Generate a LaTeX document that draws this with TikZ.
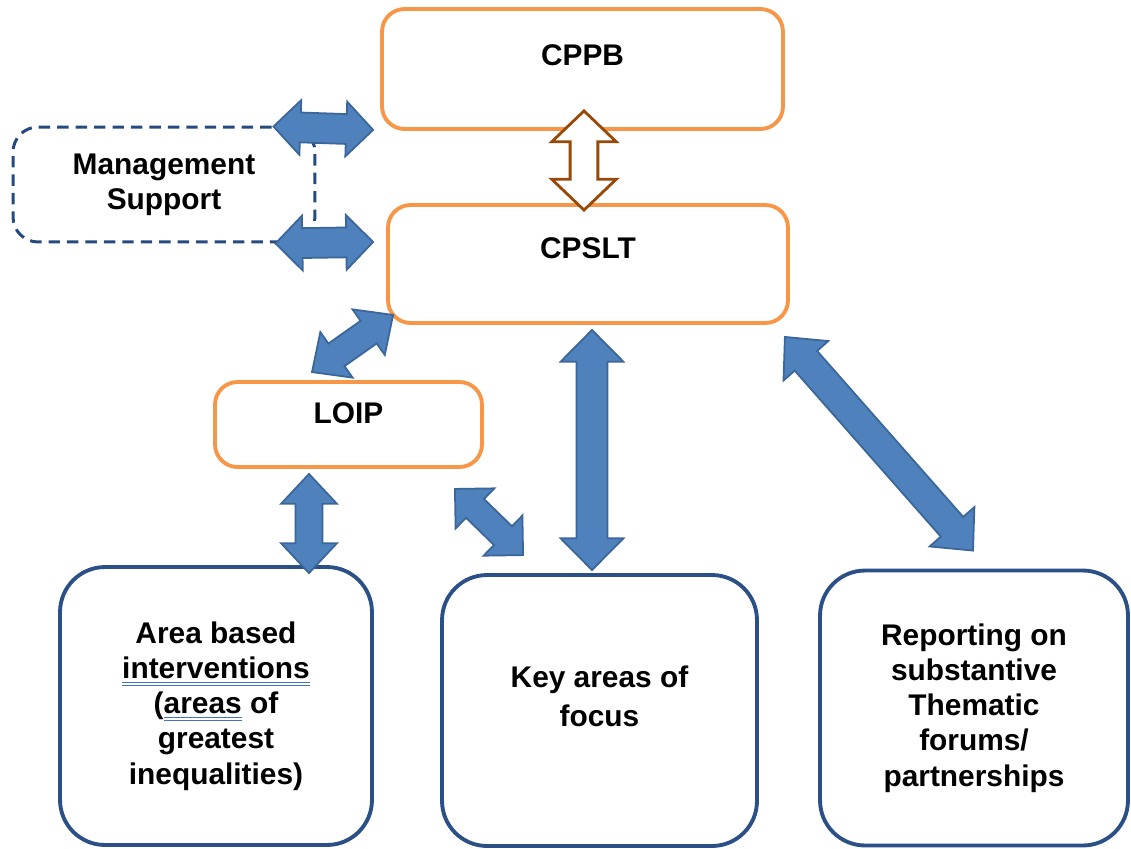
\documentclass[tikz,border=0pt]{standalone}
\usepackage{fontspec}
\setmainfont{Liberation Sans}
\usetikzlibrary{calc}

\definecolor{boxorange}{HTML}{F79646}
\definecolor{boxblue}{HTML}{2B5087}
\definecolor{dashblue}{HTML}{254A80}
\definecolor{arrowfill}{HTML}{4F81BD}
\definecolor{arrowedge}{HTML}{3A6699}
\definecolor{arrowbrown}{HTML}{984807}
\definecolor{markblue}{HTML}{4472C4}

% double blue line under a word
\newsavebox{\markbox}
\newcommand{\spellmark}[1]{\sbox{\markbox}{#1}%
  \rlap{\textcolor{markblue}{\rule[-2.6pt]{\wd\markbox}{0.6pt}}}%
  \rlap{\textcolor{markblue}{\rule[-4.2pt]{\wd\markbox}{0.6pt}}}\usebox{\markbox}}

% block arrow with two heads: [style]{from}{to}{half shaft}{half head}{head length}
\newcommand{\dblarrow}[6][]{%
  \draw[blockarrow,#1] let \p1=($(#3)-(#2)$), \n1={atan2(\y1,\x1)}, \n2={veclen(\x1,\y1)} in
    (#2) -- ++($(\n1:#6)+(\n1+90:#5)$) -- ++(\n1-90:{#5-#4})
    -- ++(\n1:{\n2*1pt-2*#6}) -- ++(\n1+90:{#5-#4}) -- (#3)
    -- ++($(\n1+180:#6)+(\n1-90:#5)$) -- ++(\n1+90:{#5-#4})
    -- ++(\n1+180:{\n2*1pt-2*#6}) -- ++(\n1-90:{#5-#4}) -- cycle;}

\tikzset{
  txt/.style={font=\fontsize{17}{20}\selectfont\bfseries, align=center},
  topbox/.style={txt, draw=boxorange, line width=2.2pt, rounded corners=0.45cm, text height=12.5pt},
  lowbox/.style={txt, draw=boxblue, line width=2.2pt, rounded corners=0.9cm,
    minimum width=6.2cm, minimum height=5.5cm},
  mgmtbox/.style={txt, draw=dashblue, line width=1.7pt, rounded corners=0.5cm,
    dash pattern=on 6.5pt off 4pt, minimum width=6.04cm, minimum height=2.3cm},
  blockarrow/.style={fill=arrowfill, draw=arrowedge, line width=1pt, line join=miter},
  hollowarrow/.style={fill=white, draw=arrowbrown, line width=1.6pt}
}

\begin{document}
\begin{tikzpicture}[x=0.02cm, y=-0.02cm]
\useasboundingbox (0,0) rectangle (1131,848);

% boxes
\node[topbox, minimum width=8.02cm, minimum height=2.4cm, text depth=16pt] (cppb) at (582.5,69) {CPPB};
\node[topbox, minimum width=8cm, minimum height=2.36cm, text depth=18.5pt] (cpslt) at (588,264) {CPSLT};
\node[topbox, minimum width=5.34cm, minimum height=1.7cm, text depth=13.5pt] (loip) at (348.5,424.5) {LOIP};
\node[mgmtbox] (ms) at (164,184.5) {Management\\Support};
\node[lowbox, minimum width=6.24cm, minimum height=5.56cm] (area) at (216,706)
  {Area based\\\spellmark{interventions}\\(\spellmark{areas} of\\greatest\\inequalities)};
\node[lowbox, minimum width=6.3cm, minimum height=5.42cm, font=\fontsize{17}{22}\selectfont\bfseries] (key) at (599.5,710.5)
  {Key areas of\\focus\\[-6pt]};
\node[lowbox, minimum width=6.16cm, minimum height=5.5cm] (report) at (974,708)
  {Reporting on\\substantive\\Thematic\\forums/\\partnerships};

% arrow ends
\coordinate (m1) at ($(ms.north east)+(-43,1)$);
\coordinate (m2) at ($(cppb.south west)+(-7,-1)$);
\coordinate (m3) at ($(ms.south east)+(-41,0)$);
\coordinate (m4) at ($(cpslt.west)+(-13,-22)$);
\coordinate (b1) at ($(cppb.south)+(1.5,-20)$);
\coordinate (b2) at ($(cpslt.north)+(-4,7)$);
\coordinate (c1) at ($(cpslt.south west)+(7,-10)$);
\coordinate (c2) at ($(loip.north)+(-36.5,-8)$);
\coordinate (l1) at ($(loip.south)+(-39.5,5)$);
\coordinate (l2) at ($(area.north)+(93,8)$);
\coordinate (l3) at ($(loip.south east)+(-29,20)$);
\coordinate (l4) at ($(key.north west)+(83,-18)$);
\coordinate (k1) at ($(cpslt.south)+(4,5)$);
\coordinate (k2) at ($(key.north)+(-7.5,-3)$);
\coordinate (r1) at ($(cpslt.south east)+(-5,12)$);
\coordinate (r2) at ($(report.north)+(-1,-18)$);

% arrows
\dblarrow[hollowarrow]{b1}{b2}{7.9pt}{18.4pt}{17.6pt}
\foreach \a/\b/\sw/\hw/\hl in {
  m1/m2/8.5pt/15.6pt/15.3pt, m3/m4/8.5pt/15.6pt/15.3pt,
  c1/c2/7.9pt/15.9pt/17pt, l1/l2/7.7pt/15.9pt/17pt,
  l3/l4/7.4pt/15.9pt/15.9pt, k1/k2/8.8pt/17.9pt/18.1pt,
  r1/r2/8.5pt/17pt/18.1pt
} {\dblarrow{\a}{\b}{\sw}{\hw}{\hl}}
\end{tikzpicture}
\end{document}
